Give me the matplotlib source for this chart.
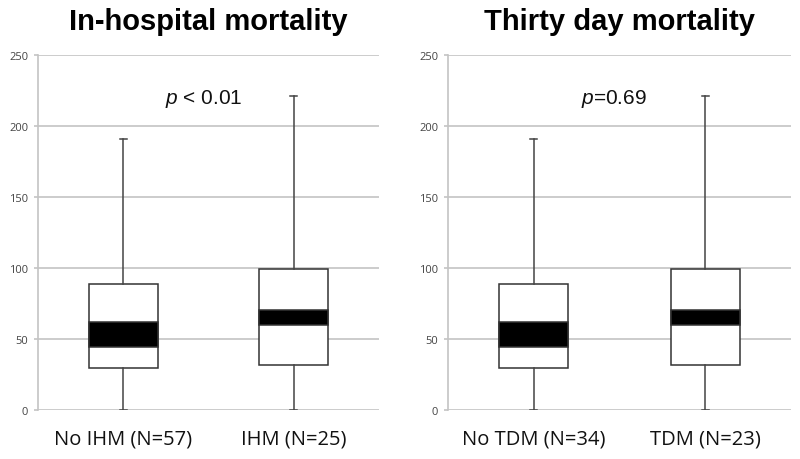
import matplotlib.pyplot as plt

# ============================================================
# Data
# ============================================================
PANEL_TITLES = ["In-hospital mortality", "Thirty day mortality"]
P_TEXTS = [("p", " < 0.01"), ("p", "=0.69")]

IHM_LABELS = ["No IHM (N=57)", "IHM (N=25)"]
TDM_LABELS = ["No TDM (N=34)", "TDM (N=23)"]

# whisker low, box low, box high, whisker high
IHM_WHISK_LO = [0, 0]
IHM_Q1 = [29.5, 31.5]
IHM_Q3 = [88.5, 99.5]
IHM_WHISK_HI = [191, 221]
# black band (low, high)
IHM_BAND_LO = [44.5, 60]
IHM_BAND_HI = [62, 70.5]

TDM_WHISK_LO = [0, 0]
TDM_Q1 = [29.5, 31.5]
TDM_Q3 = [88.5, 99.5]
TDM_WHISK_HI = [191, 221]
TDM_BAND_LO = [44.5, 60]
TDM_BAND_HI = [62, 70.5]

Y_TICKS = [0, 50, 100, 150, 200, 250]

LABEL_FONT = ["Open Sans", "DejaVu Sans"]
TITLE_FONT = ["Liberation Sans", "DejaVu Sans"]

plt.rcParams["mathtext.fontset"] = "custom"
plt.rcParams["mathtext.it"] = "Liberation Sans:italic"
plt.rcParams["mathtext.rm"] = "Liberation Sans"

fig = plt.figure(figsize=(8, 4.6), dpi=100)
ax_left = fig.add_axes([38 / 800, 1 - 411 / 460, 341 / 800, 355 / 460])
ax_right = fig.add_axes([448 / 800, 1 - 411 / 460, 343 / 800, 355 / 460])

panels = [
    (ax_left, IHM_LABELS, IHM_WHISK_LO, IHM_Q1, IHM_Q3, IHM_WHISK_HI, IHM_BAND_LO, IHM_BAND_HI),
    (ax_right, TDM_LABELS, TDM_WHISK_LO, TDM_Q1, TDM_Q3, TDM_WHISK_HI, TDM_BAND_LO, TDM_BAND_HI),
]

for i, (ax, labels, wlo, q1, q3, whi, blo, bhi) in enumerate(panels):
    stats = []
    for k in range(len(labels)):
        stats.append(dict(whislo=wlo[k], q1=q1[k], med=(blo[k] + bhi[k]) / 2,
                          q3=q3[k], whishi=whi[k], label=labels[k]))
    pos = [1, 2]
    ax.bxp(stats, positions=pos, widths=0.405, showfliers=False,
           patch_artist=True,
           boxprops=dict(facecolor="white", edgecolor="#333333", linewidth=1.1),
           whiskerprops=dict(color="#444444", linewidth=1.1),
           capprops=dict(color="#444444", linewidth=1.1),
           capwidths=0.04,
           medianprops=dict(linewidth=0))
    # black band inside each box
    ax.bar(pos, [h - l for h, l in zip(bhi, blo)], bottom=blo, width=0.405,
           color="black", edgecolor="#333333", linewidth=1.1, zorder=5)

    ax.set_xlim(0.5, 2.5)
    ax.set_ylim(0, 250)
    ax.set_yticks(Y_TICKS)
    ax.yaxis.grid(True, color="#c4c4c4", linewidth=1.2)
    ax.set_axisbelow(True)
    for side in ["top", "right", "bottom"]:
        ax.spines[side].set_visible(False)
    ax.spines["left"].set_color("#c4c4c4")
    ax.spines["left"].set_linewidth(1.2)
    ax.tick_params(axis="y", length=3, width=1.2, color="#c4c4c4",
                   labelsize=8, labelcolor="#444444", pad=4)
    ax.tick_params(axis="x", length=0, labelsize=14.5, pad=13)
    for t in ax.get_yticklabels():
        t.set_family(LABEL_FONT)
    for t in ax.get_xticklabels():
        t.set_family(LABEL_FONT)
        t.set_color("#111111")

    ax.set_title(PANEL_TITLES[i], fontsize=21, fontweight="bold",
                 family=TITLE_FONT, pad=19)

    # p-value annotation with italic p
    pv, rest = P_TEXTS[i]
    ax.text(1.47, 220, r"$\it{" + pv + r"}$" + rest, ha="center", va="center",
            fontsize=15, family=TITLE_FONT, color="#111111")

plt.savefig("out.png", dpi=100)
